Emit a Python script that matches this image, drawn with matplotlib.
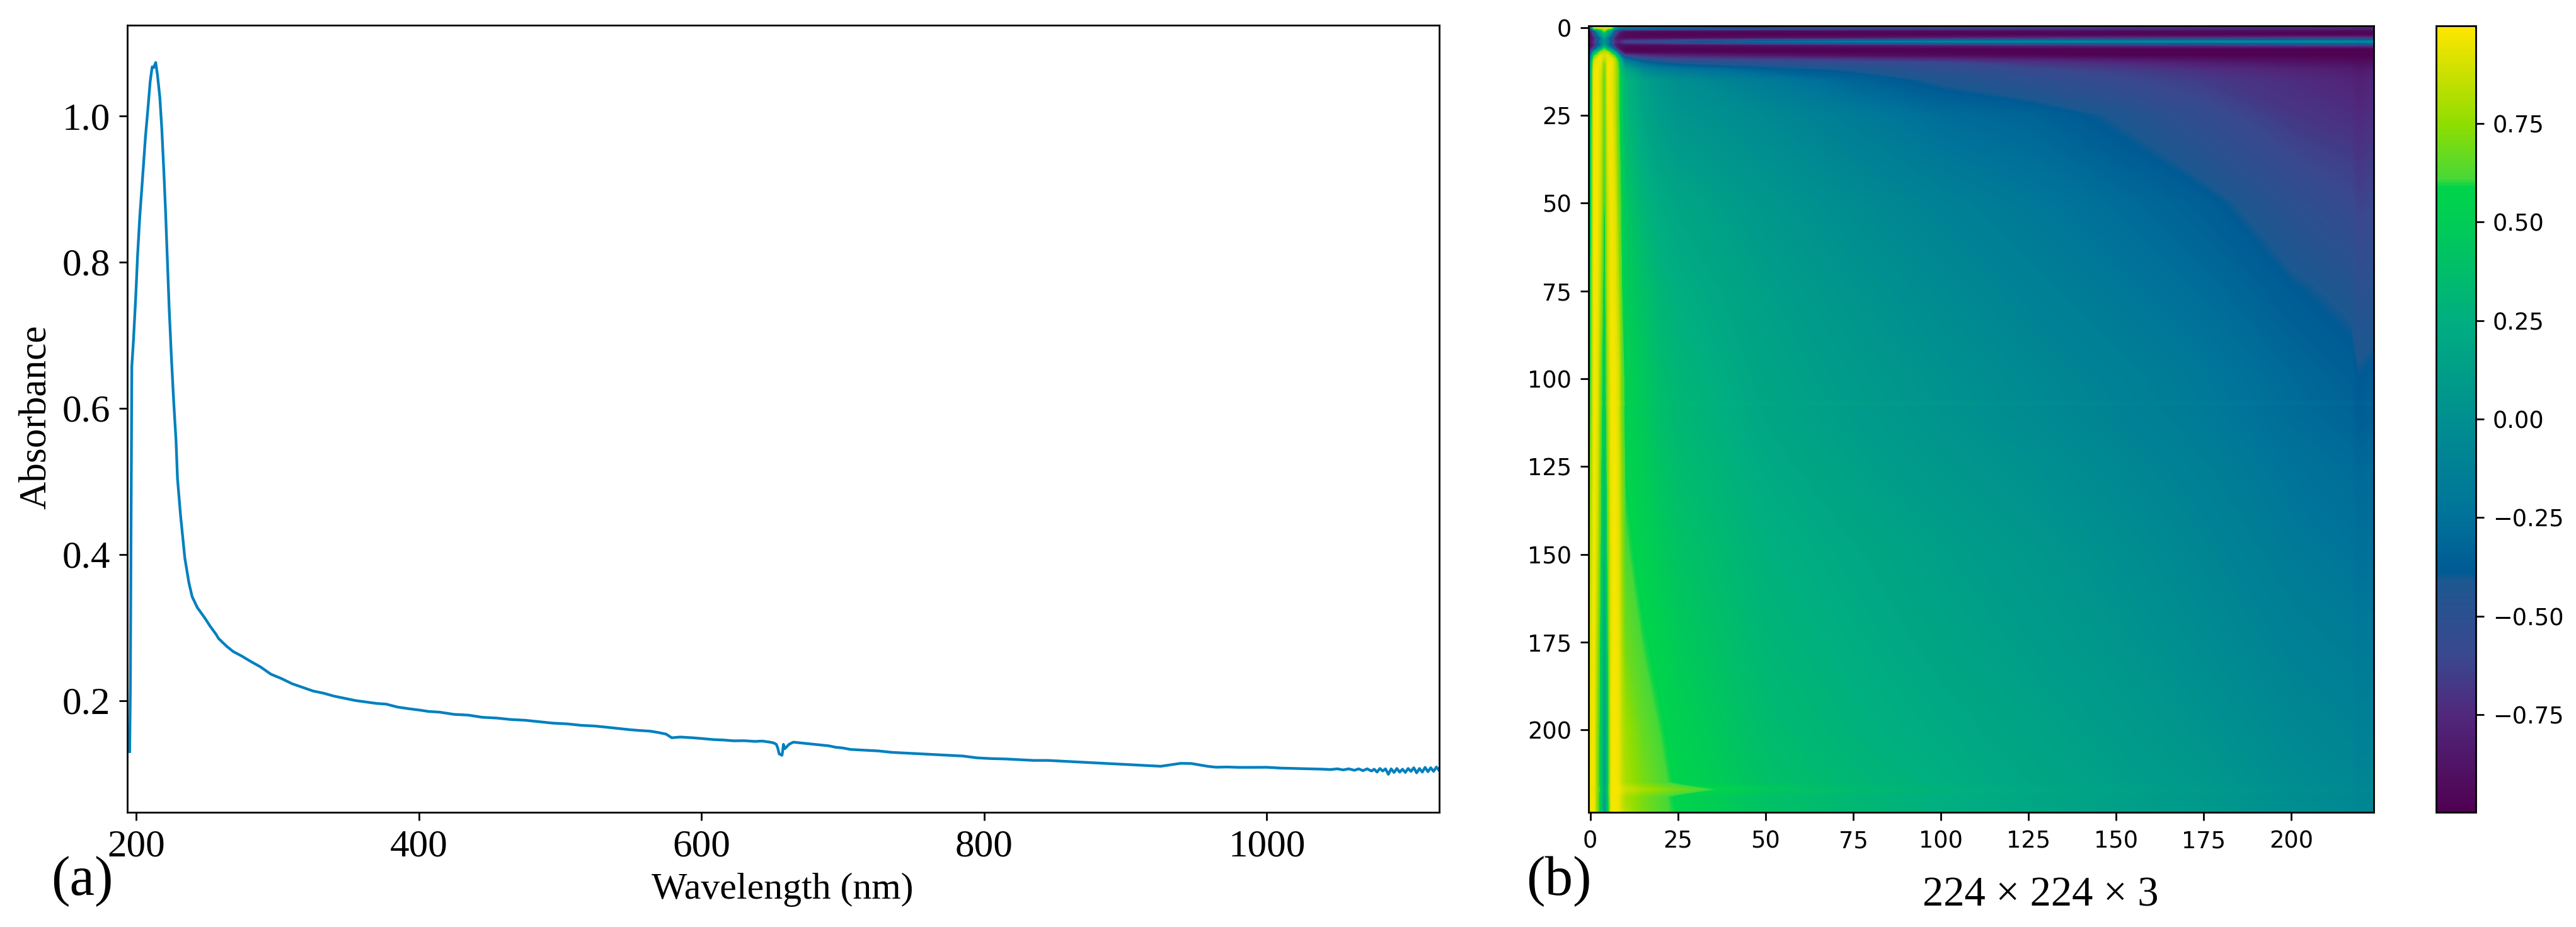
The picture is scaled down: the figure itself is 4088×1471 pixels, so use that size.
import numpy as np
import matplotlib
matplotlib.use('Agg')
import matplotlib.pyplot as plt
from matplotlib.colors import LinearSegmentedColormap, Normalize
from matplotlib.cm import ScalarMappable

W, H = 4088, 1471

# Absorbance spectrum
wavelength = [195.5, 196, 196.5, 197, 198.2, 199.8, 201.1, 202.7, 204.5, 206.6, 208.4, 210, 211.4, 212.5, 213.9,
              215.2, 216.8, 218.2, 219.8, 220.9, 222, 223.4, 225, 226.6, 228.3, 229.3, 231.5, 234.5, 237.4, 239.7,
              243.4, 248.6, 252.3, 256.8, 258.3, 264.2, 268.7, 274.6, 280.6, 288, 295.4, 302.9, 310.3, 317.7, 325.2,
              332.6, 340, 347.5, 355, 362.4, 370, 377, 385, 392, 400, 407, 415, 425, 435, 445, 455, 465, 475, 485,
              495, 505, 515, 525, 535, 549.5, 556, 564, 570, 575, 579, 585, 593.6, 600, 608.6, 615, 623, 630, 638,
              643, 648.5, 651, 653, 654, 655, 656, 657, 657.5, 658, 659, 660, 662, 665, 670, 675, 680, 685, 690, 695,
              700, 705.6, 715, 725, 735, 745, 755, 765, 775, 785, 795, 805, 815, 825, 835, 845, 855, 865, 875, 885,
              895, 905, 915, 925, 932, 939, 946.5, 952, 958, 964, 972, 980, 990, 1000, 1010, 1020, 1030, 1040, 1045,
              1050, 1054, 1058, 1062, 1065, 1068, 1071, 1074, 1076, 1078, 1080, 1082, 1084, 1086, 1088, 1090, 1092,
              1094, 1096, 1098, 1100, 1102, 1104, 1106, 1108, 1110, 1112, 1114, 1116, 1118, 1120, 1122]
absorbance = [0.13, 0.22, 0.45, 0.657, 0.694, 0.753, 0.81, 0.864, 0.912, 0.97, 1.01, 1.047, 1.067, 1.066, 1.073,
              1.055, 1.026, 0.983, 0.918, 0.868, 0.81, 0.738, 0.67, 0.61, 0.555, 0.504, 0.453, 0.395, 0.361, 0.342,
              0.327, 0.313, 0.302, 0.29, 0.285, 0.274, 0.267, 0.261, 0.254, 0.246, 0.236, 0.23, 0.223, 0.218, 0.213,
              0.21, 0.206, 0.203, 0.2, 0.198, 0.196, 0.195, 0.191, 0.189, 0.187, 0.185, 0.184, 0.181, 0.18, 0.177,
              0.176, 0.174, 0.173, 0.171, 0.169, 0.168, 0.166, 0.165, 0.163, 0.16, 0.159, 0.158, 0.156, 0.154, 0.149,
              0.15, 0.149, 0.148, 0.1465, 0.146, 0.1448, 0.145, 0.144, 0.1445, 0.143, 0.142, 0.14, 0.135, 0.127, 0.126,
              0.125, 0.131, 0.14, 0.134, 0.136, 0.14, 0.143, 0.142, 0.141, 0.14, 0.139, 0.138, 0.136, 0.135, 0.133,
              0.132, 0.131, 0.129, 0.128, 0.127, 0.126, 0.125, 0.124, 0.1215, 0.1205, 0.12, 0.119, 0.118, 0.118,
              0.117, 0.116, 0.115, 0.114, 0.113, 0.112, 0.111, 0.11, 0.112, 0.114, 0.1138, 0.112, 0.11, 0.1087, 0.109,
              0.1085, 0.1085, 0.1086, 0.1075, 0.107, 0.1065, 0.106, 0.1055, 0.1065, 0.105, 0.1065, 0.1045, 0.1065,
              0.104, 0.1065, 0.1035, 0.106, 0.102, 0.107, 0.1035, 0.1065, 0.099, 0.1065, 0.1015, 0.107, 0.102, 0.106,
              0.1015, 0.107, 0.103, 0.108, 0.101, 0.107, 0.102, 0.1085, 0.1025, 0.108, 0.103, 0.109, 0.104]

x_ticks_a = [200, 400, 600, 800, 1000]
y_ticks_a = [0.2, 0.4, 0.6, 0.8, 1.0]

# Correlation-like matrix of panel (b), read at these rows and columns
heat_cols = [0, 1, 2, 3, 4, 5, 6, 7, 8, 9, 10, 15, 20, 25, 50, 75, 100, 125, 150, 175, 200, 217, 219, 223]
heat_rows = [0, 1, 2, 3, 4, 5, 6, 7, 8, 9, 10, 12, 15, 25, 50, 75, 100, 106, 107, 108, 125, 150, 175, 200, 215, 217,
             219, 223]
heat_values = [
    [-.3, .9, .95, .95, .95, .95, .9, .2, 0, -.05, -.1, -.15, -.2, -.25, -.4, -.5, -.55, -.6, -.65, -.7, -.72, -.74, -.76, -.75],
    [-.9, -.4, 0, .25, .7, .25, 0, -.4, -.7, -.85, -.9, -.93, -.95, -.95, -.95, -.95, -.95, -.95, -.95, -.95, -.95, -.95, -.95, -.95],
    [-.95, -.6, -.2, .1, .3, .1, -.2, -.6, -.85, -.92, -.95, -.97, -.98, -.98, -.98, -.98, -.98, -.98, -.98, -.98, -.98, -.98, -.98, -.98],
    [-.95, -.8, -.5, -.2, .1, -.2, -.5, -.8, -.9, -.92, -.93, -.93, -.93, -.92, -.88, -.85, -.8, -.75, -.72, -.7, -.67, -.65, -.68, -.65],
    [-.9, -.7, -.4, -.1, 0, -.1, -.4, -.7, -.8, -.7, -.6, -.55, -.5, -.42, -.25, -.15, -.08, -.05, -.04, -.03, -.03, -.03, -.05, -.03],
    [-.95, -.8, -.5, -.2, .1, -.2, -.5, -.8, -.9, -.92, -.93, -.93, -.93, -.92, -.88, -.85, -.8, -.75, -.72, -.7, -.67, -.65, -.68, -.65],
    [-.9, -.5, -.05, .25, .6, .25, -.05, -.5, -.85, -.95, -.98, -.98, -.98, -.98, -.98, -.98, -.98, -.98, -.98, -.98, -.98, -.98, -.98, -.98],
    [-.55, .2, .5, .8, .85, .8, .5, .2, -.35, -.8, -.95, -.97, -.97, -.97, -.98, -.98, -.98, -.98, -.98, -.98, -.98, -.98, -.98, -.98],
    [-.3, .6, .8, .95, .9, .95, .8, .6, .2, -.3, -.6, -.7, -.75, -.78, -.85, -.9, -.93, -.96, -.98, -.98, -.98, -.98, -.98, -.98],
    [-.1, .8, .95, .95, .8, .95, .95, .8, .5, 0, -.25, -.5, -.55, -.6, -.65, -.7, -.75, -.8, -.85, -.9, -.93, -.95, -.96, -.95],
    [.1, .9, .97, .95, .7, .97, .97, .85, .6, .2, -.05, -.3, -.4, -.45, -.5, -.55, -.6, -.7, -.75, -.82, -.88, -.9, -.92, -.9],
    [.2, .95, .98, .9, .65, .98, .97, .85, .65, .35, .2, -.05, -.15, -.2, -.35, -.42, -.5, -.58, -.65, -.72, -.78, -.82, -.85, -.82],
    [.25, .97, .98, .88, .62, .98, .95, .85, .65, .45, .3, .15, .05, 0, -.18, -.33, -.43, -.5, -.58, -.66, -.73, -.77, -.8, -.77],
    [.35, .97, .98, .88, .6, .95, .97, .85, .65, .47, .33, .18, .1, .05, -.05, -.17, -.28, -.33, -.42, -.55, -.68, -.72, -.75, -.72],
    [.45, .98, .97, .85, .55, .88, .97, .93, .72, .55, .45, .3, .22, .18, .06, -.03, -.12, -.2, -.28, -.36, -.5, -.58, -.63, -.6],
    [.52, .98, .96, .78, .48, .85, .97, .95, .82, .6, .5, .4, .3, .25, .13, .04, -.04, -.12, -.2, -.28, -.38, -.44, -.5, -.48],
    [.58, .98, .93, .68, .42, .78, .97, .97, .9, .68, .55, .46, .36, .31, .17, .09, .02, -.05, -.12, -.2, -.3, -.35, -.39, -.37],
    [.59, .98, .93, .67, .41, .77, .97, .97, .9, .68, .55, .47, .37, .32, .18, .1, .03, -.04, -.11, -.19, -.29, -.34, -.38, -.36],
    [.61, .98, .93, .69, .43, .79, .97, .97, .91, .7, .57, .49, .39, .34, .2, .13, .06, -.01, -.08, -.16, -.26, -.31, -.35, -.33],
    [.59, .98, .93, .67, .41, .77, .97, .97, .9, .68, .55, .47, .37, .32, .18, .1, .03, -.04, -.11, -.19, -.29, -.34, -.38, -.36],
    [.7, .98, .9, .62, .33, .72, .96, .98, .92, .72, .58, .5, .42, .36, .22, .14, .07, .01, -.06, -.14, -.24, -.28, -.31, -.3],
    [.8, .98, .85, .57, .25, .65, .95, .98, .93, .76, .62, .55, .48, .42, .27, .2, .13, .07, 0, -.08, -.18, -.23, -.26, -.25],
    [.88, .98, .78, .52, .17, .58, .95, .98, .95, .8, .68, .6, .55, .48, .31, .24, .17, .11, .05, -.03, -.12, -.16, -.19, -.18],
    [.93, .98, .72, .5, .1, .5, .97, .98, .96, .84, .78, .66, .6, .54, .36, .28, .22, .16, .1, .03, -.06, -.1, -.13, -.12],
    [.95, .98, .7, .48, .08, .48, .97, .98, .96, .86, .8, .7, .63, .57, .4, .32, .25, .19, .13, .07, -.02, -.06, -.09, -.08],
    [.95, .96, .72, .52, .14, .52, .97, .98, .97, .92, .88, .8, .74, .68, .47, .35, .28, .21, .15, .09, 0, -.04, -.07, -.06],
    [.95, .98, .7, .48, .08, .48, .97, .98, .96, .86, .8, .7, .63, .57, .4, .32, .25, .19, .13, .07, -.02, -.06, -.09, -.08],
    [.96, .98, .7, .47, .07, .47, .97, .98, .96, .88, .82, .7, .63, .58, .42, .33, .26, .2, .14, .08, 0, -.05, -.08, -.08],
]
tick_step_b = [0, 25, 50, 75, 100, 125, 150, 175, 200]
cbar_ticks = [-0.75, -0.5, -0.25, 0, 0.25, 0.5, 0.75]

# Colour bar of panel (b), read at these values
cmap_values = [-1, -0.75, -0.6, -0.5, -0.41, -0.39, -0.25, 0, 0.25, 0.5, 0.59, 0.61, 0.75, 0.87, 1]
cmap_colors = ['#500050', '#50287C', '#3A488E', '#2C5090', '#1C5890', '#005A94', '#00729A', '#008F90', '#00AE80',
               '#00CC55', '#00D44A', '#48D838', '#90DD00', '#C8E000', '#FFE600']


def px_axes(fig, x0, y0, x1, y1):
    # axes from pixel corners, y counted from the top
    return fig.add_axes([x0 / W, 1 - y1 / H, (x1 - x0) / W, (y1 - y0) / H])


def style_spines(ax):
    for s in ax.spines.values():
        s.set_linewidth(2)


fig = plt.figure(figsize=(W / 100, H / 100), dpi=100)
serif = 'Liberation Serif'

# panel (a)
ax1 = px_axes(fig, 202, 40, 2284, 1289)
ax1.plot(wavelength, absorbance, color='#0080BF', lw=3.1)
ax1.set_xlim(193.8, 1122)
ax1.set_ylim(0.047, 1.124)
ax1.set_xticks(x_ticks_a)
ax1.set_yticks(y_ticks_a)
ax1.set_yticklabels(['%.1f' % v for v in y_ticks_a])
ax1.tick_params(length=9.5, width=2, labelsize=44, pad=10)
for t in ax1.get_xticklabels() + ax1.get_yticklabels():
    t.set_family(serif)
style_spines(ax1)
fig.text(1242 / W, 1 - 1426 / H, 'Wavelength (nm)', family=serif, fontsize=43, ha='center', va='baseline')
fig.text(57 / W, 1 - 662 / H, 'Absorbance', family=serif, fontsize=44, rotation=90, ha='center', va='center')
fig.text(81 / W, 1 - 1420 / H, '(a)', family=serif, fontsize=64, ha='left', va='baseline')

# panel (b)
cmap = LinearSegmentedColormap.from_list('panel_b', [((v + 1) / 2, c) for v, c in zip(cmap_values, cmap_colors)], N=1024)
norm = Normalize(-1, 1)
ax2 = px_axes(fig, 2521, 41, 3767, 1289)
table = np.pad(np.array(heat_values), 1, mode='edge')
cols = np.r_[-0.5, heat_cols, 223.5]
rows = np.r_[-0.5, heat_rows, 223.5]
ax2.contourf(cols, rows, table, levels=np.linspace(-1, 1, 401), cmap=cmap, norm=norm, extend='both')
ax2.set_xlim(-0.5, 223.5)
ax2.set_ylim(223.5, -0.5)
ax2.set_xticks(tick_step_b)
ax2.set_yticks(tick_step_b)
ax2.tick_params(length=9.5, width=2, labelsize=26.5, pad=10)
style_spines(ax2)
fig.text(3238 / W, 1 - 1438 / H, '224 × 224 × 3', family=serif, fontsize=48, ha='center', va='baseline')
fig.text(2422 / W, 1 - 1420 / H, '(b)', family=serif, fontsize=64, ha='left', va='baseline')

cax = px_axes(fig, 3866, 41, 3929, 1289)
cb = fig.colorbar(ScalarMappable(norm=norm, cmap=cmap), cax=cax)
cax.set_ylim(-0.998, 0.998)
cb.set_ticks(cbar_ticks)
cb.ax.tick_params(length=9.5, width=2, labelsize=26.5, pad=10)
cb.outline.set_linewidth(2)

fig.savefig('out.png', dpi=100)
